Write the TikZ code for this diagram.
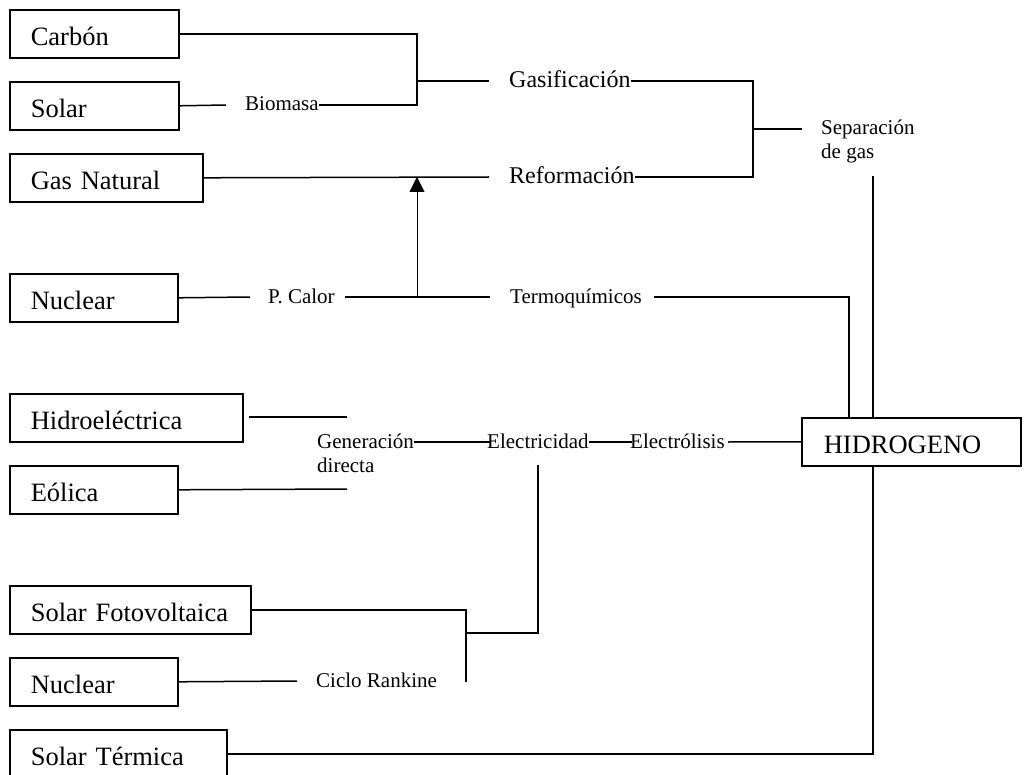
\documentclass[tikz,border=0pt]{standalone}
\usepackage{fontspec}
\setmainfont{Liberation Serif}
\usetikzlibrary{arrows.meta}
\begin{document}
\begin{tikzpicture}[x=1pt,y=-1pt,
  box/.style={draw, line width=1.6pt, anchor=north west, minimum height=48pt,
    inner xsep=21pt, inner ysep=0pt, text width=#1, align=left,
    text height=24pt, text depth=0pt, font=\fontsize{26.5}{30}\selectfont},
  lbl/.style={inner sep=0pt, anchor=base west, text height=12pt, text depth=0pt,
    font=\fontsize{21}{24}\selectfont},
  biglbl/.style={inner sep=0pt, anchor=base west, text height=14pt, text depth=0pt,
    font=\fontsize{24}{28}\selectfont},
  ml/.style={inner sep=0pt, anchor=base west, font=\fontsize{21}{24}\selectfont},
  conn/.style={line width=1.5pt},
  arr/.style={line width=0.8pt, -{Triangle[width=15pt,length=15pt]}}]
\useasboundingbox (0,0) rectangle (1024,775);

% boxes
\node[box=127] (carbon) at (9,9) {Carbón};
\node[box=127] (solar) at (9,81) {Solar};
\node[box=151] (gasnat) at (9,153) {Gas Natural};
\node[box=126] (nuc1) at (9,273) {Nuclear};
\node[box=191] (hidro) at (9,393) {Hidroeléctrica};
\node[box=126] (eolica) at (9,465) {Eólica};
\node[box=199] (solfv) at (9,585) {Solar Fotovoltaica};
\node[box=126] (nuc2) at (9,657) {Nuclear};
\node[box=175] (solterm) at (9,729) {Solar Térmica};
\node[box=175, inner xsep=22pt] (hidrogeno) at (801,417) {HIDROGENO};

% labels
\node[lbl] (biomasa) at (245,111) {Biomasa};
\node[biglbl] (gasif) at (509,88) {Gasificación};
\node[biglbl] (reform) at (509,184) {Reformación};
\node[ml] (separ) at (821,135) {\begin{tabular}[t]{@{}l@{}}Separación\\de gas\end{tabular}};
\node[lbl] (pcalor) at (268,303) {P. Calor};
\node[lbl] (termo) at (510,303) {Termoquímicos};
\node[ml] (gen) at (317,448) {\begin{tabular}[t]{@{}l@{}}Generación\\directa\end{tabular}};
\node[lbl] (elec) at (487,448) {Electricidad};
\node[lbl] (electrol) at (630,448) {Electrólisis};
\node[lbl] (ciclo) at (316,687) {Ciclo Rankine};

% free ends and junctions
\coordinate (jbio) at (417,105);
\coordinate (solarend) at (226,105);
\coordinate (gastap) at (417,81);
\coordinate (gasin) at (489,81);
\coordinate (jsep) at (753,177);
\coordinate (jsepmid) at (753,129);
\coordinate (sepin) at (802,129);
\coordinate (refin) at (489,177);
\coordinate (afoot) at (417,297);
\coordinate (atip) at (417,177);
\coordinate (pcin) at (250,297);
\coordinate (pcout) at (345,297);
\coordinate (termin) at (490,297);
\coordinate (termout) at (654,297);
\coordinate (sepdown) at (873,176);
\coordinate (hidroend) at (249,417);
\coordinate (hidroend2) at (347,417);
\coordinate (eolend) at (347,489);
\coordinate (elecin) at (490,442);
\coordinate (electrolin) at (632,442);
\coordinate (electrolout) at (728,442);
\coordinate (elecdown) at (538,465);
\coordinate (fvj) at (466,633);
\coordinate (rankend) at (466,682);
\coordinate (nucend) at (297,681);

% connectors
\draw[conn] (carbon.east) -| (jbio) -- (biomasa.east);
\draw[conn] (solar.east) -- (solarend);
\draw[conn] (gastap) -- (gasin);
\draw[conn] (gasif.east) -| (jsep) -- (reform.east);
\draw[conn] (jsepmid) -- (sepin);
\draw[conn] (gasnat.east) -- (refin);
\draw[arr] (afoot) -- (atip);
\draw[conn] (nuc1.east) -- (pcin);
\draw[conn] (pcout) -- (termin);
\draw[conn] (termout) -| ([xshift=48pt]hidrogeno.north west);
\draw[conn] (sepdown) -- ([xshift=72pt]hidrogeno.north west);
\draw[conn] ([xshift=72pt]hidrogeno.south west) |- (solterm.east);
\draw[conn] (hidroend) -- (hidroend2);
\draw[conn] (eolica.east) -- (eolend);
\draw[conn] (gen.east |- elecin) -- (elecin);
\draw[conn] (elec.east) -- (electrolin);
\draw[conn] (electrolout) -- (hidrogeno.west);
\draw[conn] (elecdown) |- (fvj);
\draw[conn] (solfv.east) -| (rankend);
\draw[conn] (nuc2.east) -- (nucend);
\end{tikzpicture}
\end{document}
